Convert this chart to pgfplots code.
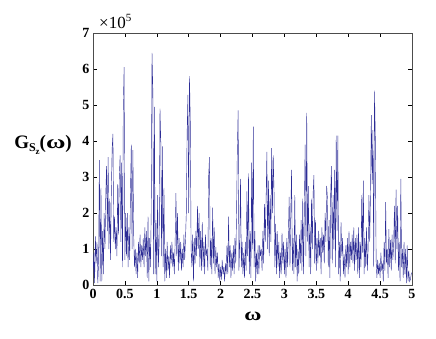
\documentclass[border=0pt]{standalone}
\usepackage{fontspec}
\setmainfont{Liberation Serif}
\usepackage{pgfplots}
\pgfplotsset{compat=1.18}
\definecolor{trace}{RGB}{45,45,150}
\begin{document}
\begin{tikzpicture}
  \begin{axis}[
      name=ax, at={(0,0)}, anchor=south west,
      width=319pt, height=252pt, scale only axis,
      xmin=0, xmax=5, ymin=0, ymax=7,
      xtick={0,0.5,...,5}, xticklabels={0,0.5,1,1.5,2,2.5,3,3.5,4,4.5,5},
      ytick={0,1,...,7},
      tick align=inside, major tick length=4pt,
      tick label style={font=\fontsize{14}{16}\selectfont\bfseries},
      /pgf/number format/assume math mode=true,
      axis line style={black!70}, tick style={black, line width=0.6pt},
      xticklabel style={yshift=-1pt},
    ]
    \addplot[trace, line width=0.42pt] coordinates {
      (0.0000,0.30) (0.0125,0.90) (0.0250,0.05) (0.0375,1.35) (0.0500,0.60) (0.0625,1.20) (0.0750,0.05) (0.0875,0.60)
      (0.1000,3.47) (0.1125,0.10) (0.1250,2.70) (0.1375,0.10) (0.1500,1.50) (0.1625,0.30) (0.1750,2.00) (0.1875,1.00)
      (0.2000,2.50) (0.2125,3.30) (0.2250,1.50) (0.2375,3.55) (0.2500,1.00) (0.2625,2.40) (0.2750,0.70) (0.2875,2.60)
      (0.3000,3.80) (0.3125,4.20) (0.3250,1.20) (0.3375,1.90) (0.3500,1.00) (0.3625,1.60) (0.3750,0.80) (0.3875,2.80)
      (0.4000,1.40) (0.4125,3.00) (0.4250,3.60) (0.4375,1.20) (0.4500,3.40) (0.4625,0.50) (0.4750,4.95) (0.4875,6.05)
      (0.5000,0.70) (0.5125,2.00) (0.5250,0.80) (0.5375,2.00) (0.5500,0.50) (0.5625,1.60) (0.5750,0.70) (0.5875,2.60)
      (0.6000,3.90) (0.6125,1.00) (0.6250,3.75) (0.6375,1.40) (0.6500,0.50) (0.6625,1.00) (0.6750,0.30) (0.6875,0.90)
      (0.7000,0.20) (0.7125,1.20) (0.7250,0.60) (0.7375,1.40) (0.7500,0.50) (0.7625,1.10) (0.7750,0.70) (0.7875,1.30)
      (0.8000,0.50) (0.8125,1.60) (0.8250,0.80) (0.8375,1.50) (0.8500,0.20) (0.8625,1.90) (0.8750,0.10) (0.8875,1.30)
      (0.9000,0.50) (0.9125,2.00) (0.9250,6.45) (0.9375,5.45) (0.9500,0.30) (0.9625,4.95) (0.9750,0.30) (0.9875,1.80)
      (1.0000,0.10) (1.0125,2.50) (1.0250,0.50) (1.0375,1.20) (1.0500,4.90) (1.0625,4.00) (1.0750,0.80) (1.0875,3.85)
      (1.1000,0.50) (1.1125,2.70) (1.1250,0.10) (1.1375,1.00) (1.1500,0.20) (1.1625,1.20) (1.1750,0.40) (1.1875,0.80)
      (1.2000,0.20) (1.2125,1.10) (1.2250,0.60) (1.2375,1.20) (1.2500,0.50) (1.2625,0.90) (1.2750,0.30) (1.2875,1.20)
      (1.3000,2.55) (1.3125,0.80) (1.3250,2.00) (1.3375,0.40) (1.3500,1.30) (1.3625,0.60) (1.3750,1.20) (1.3875,0.40)
      (1.4000,1.00) (1.4125,0.50) (1.4250,1.40) (1.4375,0.70) (1.4500,1.30) (1.4625,2.00) (1.4750,4.20) (1.4875,5.28)
      (1.5000,2.00) (1.5125,5.80) (1.5250,4.55) (1.5375,1.00) (1.5500,0.50) (1.5625,1.40) (1.5750,0.10) (1.5875,1.30)
      (1.6000,0.60) (1.6125,1.50) (1.6250,0.80) (1.6375,2.20) (1.6500,1.00) (1.6625,2.00) (1.6750,0.50) (1.6875,1.50)
      (1.7000,0.40) (1.7125,1.75) (1.7250,0.50) (1.7375,1.20) (1.7500,0.30) (1.7625,1.40) (1.7750,0.80) (1.7875,1.00)
      (1.8000,0.40) (1.8125,3.00) (1.8250,3.55) (1.8375,0.50) (1.8500,1.30) (1.8625,0.30) (1.8750,2.15) (1.8875,0.60)
      (1.9000,1.60) (1.9125,0.30) (1.9250,1.05) (1.9375,0.50) (1.9500,0.90) (1.9625,0.20) (1.9750,0.60) (1.9875,0.10)
      (2.0000,0.50) (2.0125,0.15) (2.0250,0.70) (2.0375,0.30) (2.0500,0.50) (2.0625,0.10) (2.0750,0.60) (2.0875,0.30)
      (2.1000,1.10) (2.1125,0.30) (2.1250,1.90) (2.1375,0.50) (2.1500,1.10) (2.1625,0.20) (2.1750,0.90) (2.1875,0.40)
      (2.2000,1.10) (2.2125,0.30) (2.2250,1.30) (2.2375,0.60) (2.2500,2.00) (2.2625,3.75) (2.2750,4.85) (2.2875,0.40)
      (2.3000,1.20) (2.3125,2.95) (2.3250,0.50) (2.3375,1.20) (2.3500,0.30) (2.3625,0.90) (2.3750,0.20) (2.3875,1.20)
      (2.4000,0.40) (2.4125,2.60) (2.4250,0.80) (2.4375,3.10) (2.4500,0.30) (2.4625,1.50) (2.4750,0.20) (2.4875,3.40)
      (2.5000,1.00) (2.5125,4.40) (2.5250,0.50) (2.5375,1.50) (2.5500,0.10) (2.5625,0.90) (2.5750,0.30) (2.5875,1.10)
      (2.6000,0.30) (2.6125,1.10) (2.6250,0.80) (2.6375,1.00) (2.6500,0.40) (2.6625,1.50) (2.6750,0.60) (2.6875,2.25)
      (2.7000,1.20) (2.7125,2.30) (2.7250,3.70) (2.7375,1.00) (2.7500,2.90) (2.7625,0.80) (2.7750,2.50) (2.7875,1.20)
      (2.8000,3.80) (2.8125,2.00) (2.8250,3.60) (2.8375,2.60) (2.8500,0.50) (2.8625,1.70) (2.8750,0.30) (2.8875,1.50)
      (2.9000,0.50) (2.9125,1.20) (2.9250,0.20) (2.9375,0.90) (2.9500,0.30) (2.9625,1.45) (2.9750,0.60) (2.9875,1.20)
      (3.0000,0.30) (3.0125,1.00) (3.0250,0.20) (3.0375,1.30) (3.0500,0.50) (3.0625,1.40) (3.0750,2.45) (3.0875,0.50)
      (3.1000,2.00) (3.1125,3.20) (3.1250,0.40) (3.1375,1.30) (3.1500,0.30) (3.1625,2.50) (3.1750,0.50) (3.1875,1.40)
      (3.2000,0.10) (3.2125,1.00) (3.2250,0.30) (3.2375,1.40) (3.2500,0.60) (3.2625,1.80) (3.2750,0.40) (3.2875,2.40)
      (3.3000,0.30) (3.3125,2.00) (3.3250,3.90) (3.3375,0.80) (3.3500,4.78) (3.3625,1.20) (3.3750,2.75) (3.3875,0.50)
      (3.4000,1.70) (3.4125,0.30) (3.4250,2.40) (3.4375,1.00) (3.4500,2.55) (3.4625,3.05) (3.4750,0.60) (3.4875,1.80)
      (3.5000,0.40) (3.5125,1.30) (3.5250,0.60) (3.5375,1.50) (3.5500,0.80) (3.5625,1.30) (3.5750,0.30) (3.5875,1.60)
      (3.6000,0.90) (3.6125,1.40) (3.6250,0.60) (3.6375,2.00) (3.6500,1.20) (3.6625,2.75) (3.6750,2.40) (3.6875,0.50)
      (3.7000,1.80) (3.7125,0.20) (3.7250,2.50) (3.7375,3.30) (3.7500,0.60) (3.7625,2.50) (3.7750,1.00) (3.7875,3.20)
      (3.8000,0.50) (3.8125,4.15) (3.8250,1.50) (3.8375,4.15) (3.8500,0.30) (3.8625,1.20) (3.8750,0.10) (3.8875,1.75)
      (3.9000,0.80) (3.9125,1.30) (3.9250,0.30) (3.9375,0.85) (3.9500,0.20) (3.9625,1.10) (3.9750,0.50) (3.9875,1.30)
      (4.0000,0.30) (4.0125,1.50) (4.0250,0.50) (4.0375,1.20) (4.0500,0.70) (4.0625,1.40) (4.0750,0.60) (4.0875,1.60)
      (4.1000,0.40) (4.1125,1.30) (4.1250,0.70) (4.1375,1.40) (4.1500,0.30) (4.1625,1.60) (4.1750,0.20) (4.1875,1.20)
      (4.2000,0.50) (4.2125,2.50) (4.2250,0.90) (4.2375,2.90) (4.2500,0.30) (4.2625,1.30) (4.2750,0.50) (4.2875,1.60)
      (4.3000,0.40) (4.3125,1.00) (4.3250,2.50) (4.3375,1.20) (4.3500,2.60) (4.3625,4.72) (4.3750,2.80) (4.3875,4.30)
      (4.4000,0.50) (4.4125,5.40) (4.4250,4.10) (4.4375,0.70) (4.4500,0.20) (4.4625,0.70) (4.4750,0.30) (4.4875,0.60)
      (4.5000,0.20) (4.5125,0.90) (4.5250,0.40) (4.5375,0.60) (4.5500,0.10) (4.5625,1.20) (4.5750,0.40) (4.5875,2.30)
      (4.6000,0.60) (4.6125,1.00) (4.6250,0.20) (4.6375,1.55) (4.6500,0.50) (4.6625,1.25) (4.6750,0.40) (4.6875,1.40)
      (4.7000,0.70) (4.7125,1.10) (4.7250,2.20) (4.7375,0.60) (4.7500,2.65) (4.7625,1.00) (4.7750,2.20) (4.7875,0.40)
      (4.8000,1.20) (4.8125,0.10) (4.8250,2.95) (4.8375,0.50) (4.8500,1.00) (4.8625,0.20) (4.8750,1.20) (4.8875,0.30)
      (4.9000,1.00) (4.9125,0.05) (4.9250,1.10) (4.9375,0.10) (4.9500,0.40) (4.9625,0.10) (4.9750,0.15) (4.9875,0.30)
      (5.0000,0.35)
    };
  \end{axis}
  \node[anchor=base west, inner sep=0pt] at (6pt,256pt)
    {\fontsize{17}{19}\selectfont ×10\raisebox{0.9ex}{\fontsize{11}{12}\selectfont 5}};
  \node[anchor=center, font=\fontsize{18}{20}\selectfont\bfseries] at (160pt,-31pt) {\scalebox{1.3}[1]{ω}};
  \node[anchor=east, inner sep=0pt, font=\fontsize{19}{21}\selectfont\bfseries] at (-21pt,140pt)
    {G\raisebox{-0.35ex}{\fontsize{12}{13}\selectfont S\raisebox{-0.45ex}{\fontsize{9}{10}\selectfont z}}(\scalebox{1.4}[1]{ω})};
  \path (-93pt,-53pt) rectangle (343pt,285pt);
\end{tikzpicture}
\end{document}
